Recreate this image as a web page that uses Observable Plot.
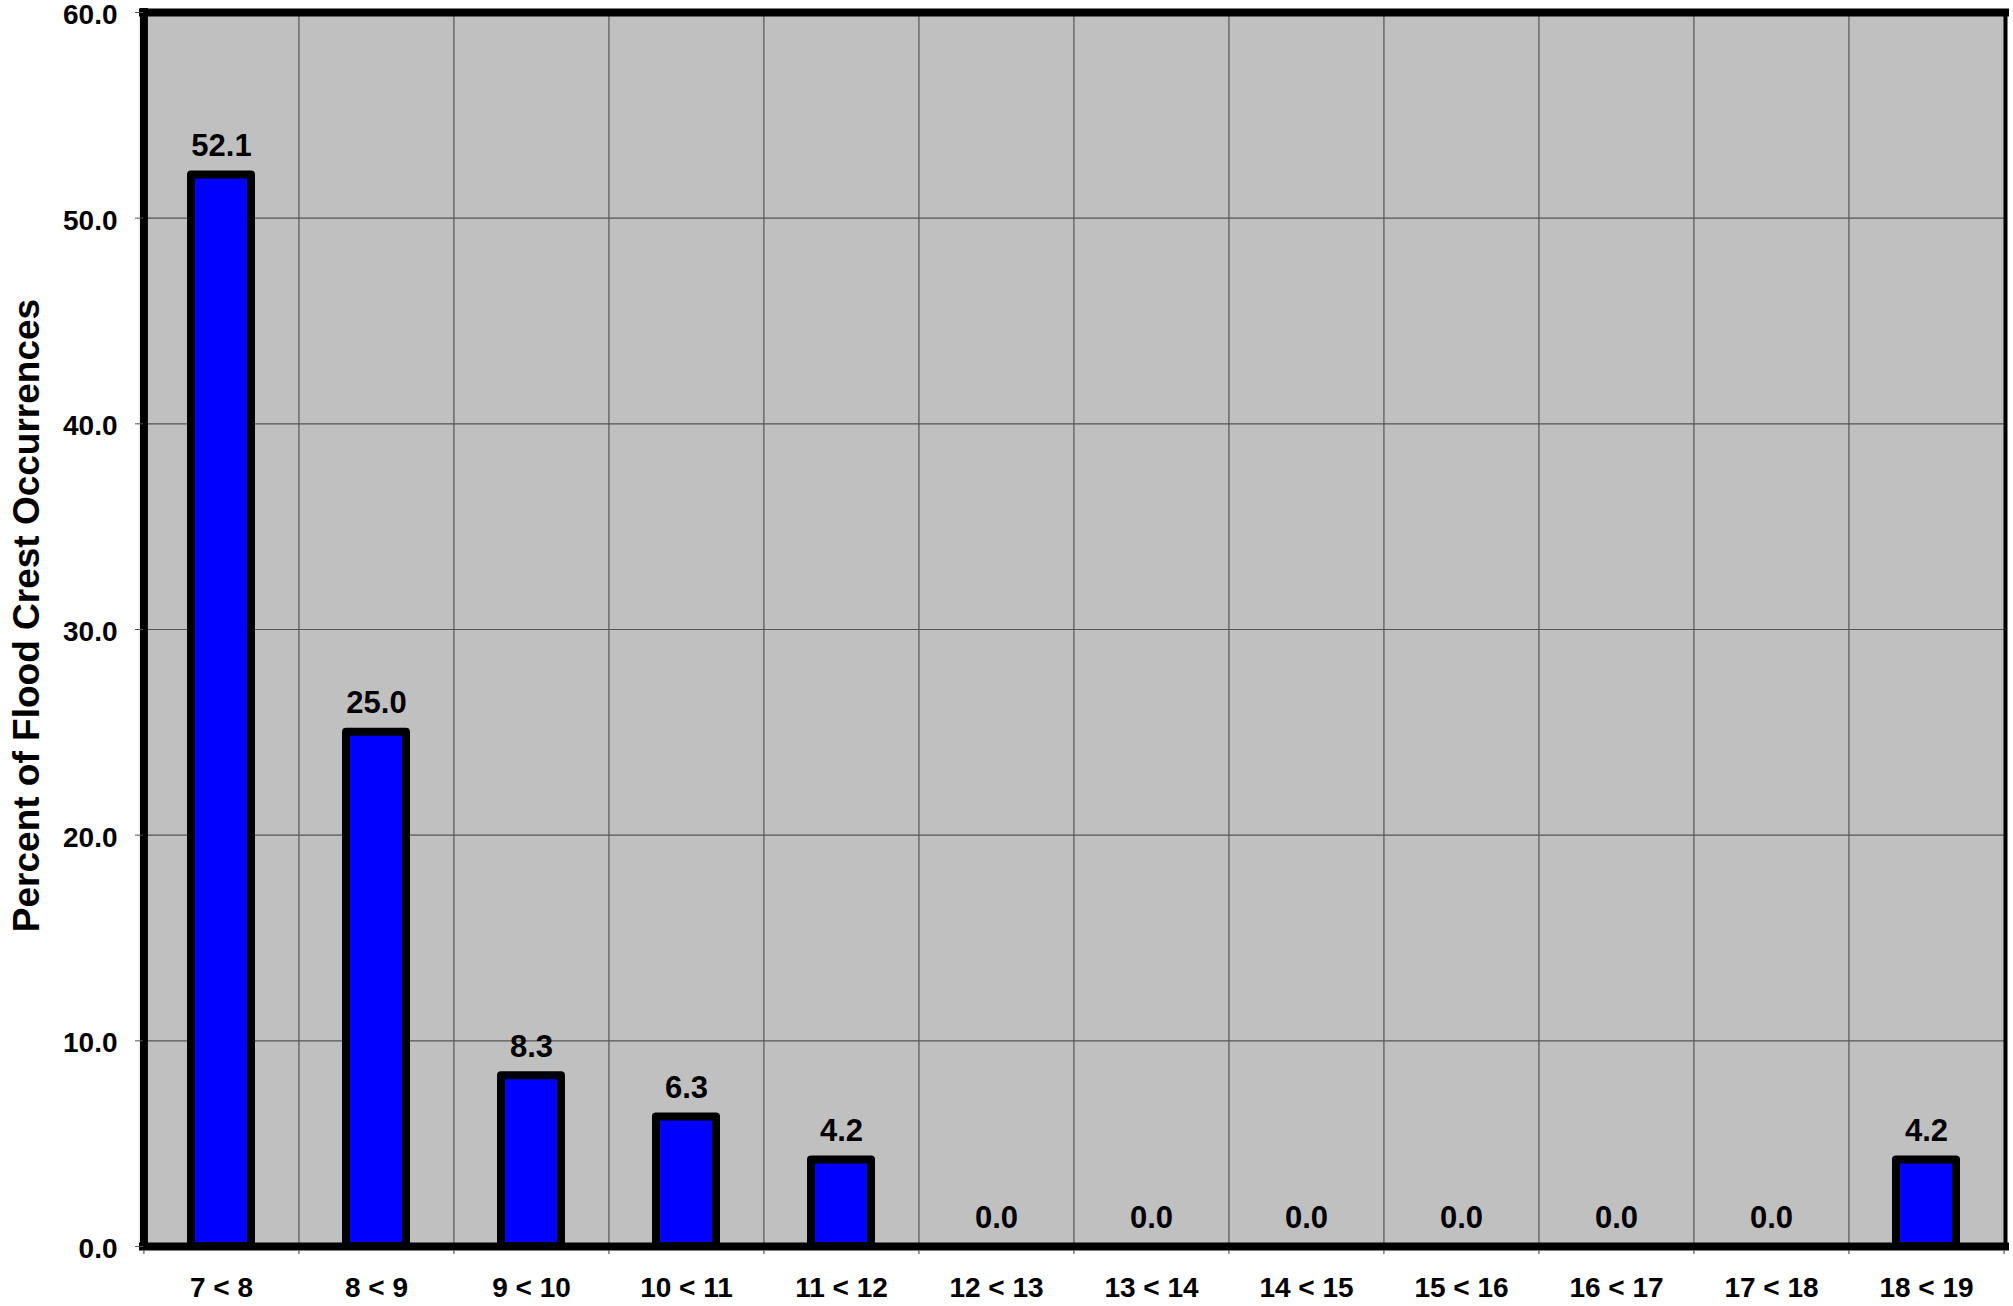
<!DOCTYPE html>
<html>
<head>
<meta charset="utf-8">
<script src="https://cdn.jsdelivr.net/npm/d3@7"></script>
<script src="https://cdn.jsdelivr.net/npm/@observablehq/plot@0.6"></script>
<style>
  html, body { margin: 0; padding: 0; background: #ffffff; }
  #chart svg { display: block; }
</style>
</head>
<body>
<div id="chart"></div>
<script>
// ---- data ----
const categories = ["7 < 8", "8 < 9", "9 < 10", "10 < 11", "11 < 12", "12 < 13",
                    "13 < 14", "14 < 15", "15 < 16", "16 < 17", "17 < 18", "18 < 19"];
const percents = [52.1, 25.0, 8.3, 6.3, 4.2, 0.0, 0.0, 0.0, 0.0, 0.0, 0.0, 4.2];
const yTicks = [0, 10, 20, 30, 40, 50, 60];
const yLabel = "Percent of Flood Crest Occurrences";

const table = categories.map((c, i) => ({cat: c, value: percents[i]}));

// ---- layout ----
const W = 2013, H = 1306;
const mL = 143, mR = 8, mT = 12, mB = 60;
const step = (W - mL - mR) / categories.length;
const font = "'Liberation Sans', Arial, Helvetica, sans-serif";
const gridColor = "#555555";

const chart = Plot.plot({
  width: W,
  height: H,
  marginLeft: mL,
  marginRight: mR,
  marginTop: mT,
  marginBottom: mB,
  style: {fontFamily: font, fontWeight: "bold", background: "#ffffff", color: "#000"},
  x: {type: "band", domain: categories, paddingInner: 0.61, paddingOuter: 0.305, align: 0.5},
  y: {domain: [0, 60]},
  marks: [
    Plot.frame({fill: "#c0c0c0", stroke: "none"}),
    // horizontal grid
    Plot.ruleY(yTicks, {stroke: gridColor, strokeWidth: 1.2}),
    // vertical grid at category boundaries
    Plot.ruleX(categories.slice(1), {x: d => d, dx: -step / 2, stroke: gridColor, strokeWidth: 1.2}),
    // bars
    Plot.barY(table, {x: "cat", y: "value", fill: "#0000ff", stroke: "#000", strokeWidth: 8, strokeLinejoin: "round"}),
    // plot border
    Plot.frame({stroke: "#000", strokeWidth: 4}),
    Plot.ruleY([0, 60], {stroke: "#000", strokeWidth: 8, strokeLinecap: "square"}),
    Plot.ruleX([categories[0]], {x: d => d, dx: -step / 2, stroke: "#000", strokeWidth: 8, strokeLinecap: "square"}),
    // x tick marks below axis at category boundaries
    Plot.ruleX(categories, {x: d => d, dx: -step / 2, y1: 0, y2: 0, insetTop: 4, insetBottom: -8, stroke: gridColor, strokeWidth: 1.2}),
    Plot.ruleX([categories[categories.length - 1]], {x: d => d, dx: step / 2, y1: 0, y2: 0, insetTop: 4, insetBottom: -8, stroke: gridColor, strokeWidth: 1.2}),
    // value labels
    Plot.text(table, {x: "cat", y: "value", text: d => d.value.toFixed(1), dy: -19, lineAnchor: "bottom",
      fontSize: 31, fontWeight: "bold", fill: "#000"}),
    // axes
    Plot.axisX({tickSize: 0, tickPadding: 31, fontSize: 28, fontWeight: "bold", label: null}),
    Plot.axisY({ticks: yTicks, tickSize: 8, text: null, stroke: gridColor, label: null}),
    Plot.axisY({ticks: yTicks, tickFormat: d => d.toFixed(1), tickSize: 0, tickPadding: 26, dy: 2.5,
      fontSize: 28, fontWeight: "bold", label: null}),
    // y axis title
    Plot.text([yLabel], {frameAnchor: "left", text: d => d, rotate: -90, dx: -105, dy: -14,
      lineAnchor: "bottom", textAnchor: "middle", fontSize: 37, fontWeight: "bold", fill: "#000"})
  ]
});
document.getElementById("chart").appendChild(chart);
</script>
</body>
</html>
